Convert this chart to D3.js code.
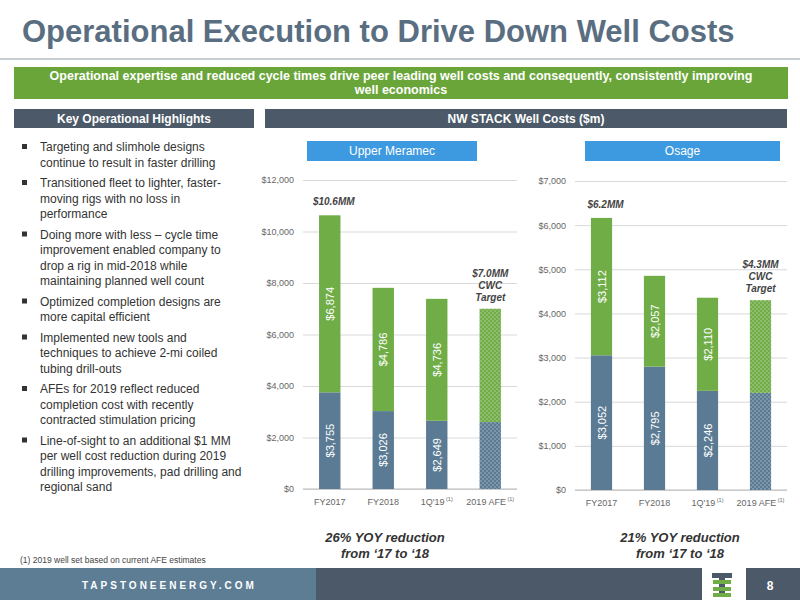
<!DOCTYPE html>
<html><head><meta charset="utf-8">
<script src="https://cdn.jsdelivr.net/npm/d3@7"></script>
<style>body{margin:0;}svg{font-family:Arial,"Liberation Sans",sans-serif;}</style>
</head><body><svg id="s" width="800" height="600"></svg>
<script>
const categories=["FY2017","FY2018","1Q'19","2019 AFE"];
const catSup=["","","(1)","(1)"];
const meramecBase=[3755,3026,2649,2600];
const meramecComp=[6874,4786,4736,4400];
const osageBase=[3052,2795,2246,2200];
const osageComp=[3112,2057,2110,2100];
const meramecTicks=[0,2000,4000,6000,8000,10000,12000];
const osageTicks=[0,1000,2000,3000,4000,5000,6000,7000];
const bullets=[
["Targeting and slimhole designs","continue to result in faster drilling"],
["Transitioned fleet to lighter, faster-","moving rigs with no loss in","performance"],
["Doing more with less – cycle time","improvement enabled company to","drop a rig in mid-2018 while","maintaining planned well count"],
["Optimized completion designs are","more capital efficient"],
["Implemented new tools and","techniques to achieve 2-mi coiled","tubing drill-outs"],
["AFEs for 2019 reflect reduced","completion cost with recently","contracted stimulation pricing"],
["Line-of-sight to an additional $1 MM","per well cost reduction during 2019","drilling improvements, pad drilling and","regional sand"]];
const BLUE="#5b7b94",GREEN="#70ad47",SLATE="#4b5968";
const svg=d3.select("#s");
svg.append("rect").attr("width",800).attr("height",600).attr("fill","#fff");
const defs=svg.append("defs");
[["pg",GREEN],["pb",BLUE]].forEach(([id,c])=>{
 const p=defs.append("pattern").attr("id",id).attr("width",4).attr("height",4).attr("patternUnits","userSpaceOnUse");
 p.append("rect").attr("width",4).attr("height",4).attr("fill",c);
 p.append("circle").attr("cx",1).attr("cy",1).attr("r",0.8).attr("fill","#fff").attr("opacity",0.45);
 p.append("circle").attr("cx",3).attr("cy",3).attr("r",0.8).attr("fill","#fff").attr("opacity",0.45);
});
svg.append("text").attr("x",22).attr("y",42).attr("font-size",31).attr("font-weight","bold").attr("fill","#5a6e82").text("Operational Execution to Drive Down Well Costs");
svg.append("rect").attr("x",0).attr("y",58).attr("width",800).attr("height",2).attr("fill","#c8cdd2");
svg.append("rect").attr("x",14).attr("y",67).attr("width",774).attr("height",32).attr("fill","#6aa539");
svg.append("text").attr("x",401).attr("y",80).attr("text-anchor","middle").attr("fill","#fff").attr("font-size",12.5).attr("font-weight","bold").text("Operational expertise and reduced cycle times drive peer leading well costs and consequently, consistently improving");
svg.append("text").attr("x",401).attr("y",94).attr("text-anchor","middle").attr("fill","#fff").attr("font-size",12.5).attr("font-weight","bold").text("well economics");
svg.append("rect").attr("x",14).attr("y",109).attr("width",240).attr("height",19).attr("fill",SLATE);
svg.append("text").attr("x",134).attr("y",123).attr("text-anchor","middle").attr("fill","#fff").attr("font-size",12).attr("font-weight","bold").text("Key Operational Highlights");
svg.append("rect").attr("x",265).attr("y",109).attr("width",522).attr("height",19).attr("fill",SLATE);
svg.append("text").attr("x",526).attr("y",123).attr("text-anchor","middle").attr("fill","#fff").attr("font-size",12).attr("font-weight","bold").text("NW STACK Well Costs ($m)");
let y=151;
bullets.forEach(b=>{
 svg.append("rect").attr("x",22).attr("y",y-7).attr("width",5).attr("height",5).attr("fill","#333");
 b.forEach((l,i)=>svg.append("text").attr("x",40).attr("y",y+i*15.5).attr("font-size",12).attr("fill","#333").text(l));
 y+=b.length*15.5+5;
});
svg.append("text").attr("x",20).attr("y",563).attr("font-size",8.5).attr("fill","#444").text("(1) 2019 well set based on current AFE estimates");
svg.append("rect").attr("x",0).attr("y",568).attr("width",800).attr("height",32).attr("fill",SLATE);
svg.append("rect").attr("x",0).attr("y",568).attr("width",316).attr("height",32).attr("fill","#5d7d94");
svg.append("text").attr("x",82).attr("y",589).attr("font-size",10).attr("font-weight","bold").attr("letter-spacing",3).attr("fill","#fff").text("TAPSTONEENERGY.COM");
svg.append("rect").attr("x",702).attr("y",568).attr("width",44).attr("height",32).attr("fill","#fff");
const lg=svg.append("g");
lg.append("rect").attr("x",712).attr("y",573).attr("width",20).attr("height",5).attr("fill",SLATE);
lg.append("rect").attr("x",719).attr("y",573).attr("width",6).attr("height",24).attr("fill",SLATE);
[580,587,593].forEach(yy=>lg.append("rect").attr("x",713).attr("y",yy).attr("width",18).attr("height",4).attr("fill",GREEN));
svg.append("text").attr("x",770).attr("y",590).attr("text-anchor","middle").attr("font-size",12).attr("font-weight","bold").attr("fill","#fff").text("8");

function chart(cfg){
 const g=svg.append("g");
 g.append("rect").attr("x",cfg.hx).attr("y",141).attr("width",cfg.hw).attr("height",20).attr("fill","#3d9ae0");
 g.append("text").attr("x",cfg.hx+cfg.hw/2).attr("y",155).attr("text-anchor","middle").attr("fill","#fff").attr("font-size",12).text(cfg.title);
 const yS=d3.scaleLinear().domain([0,cfg.max]).range([cfg.y0,cfg.y1]);
 const xS=d3.scaleBand().domain(categories).range([cfg.x0,cfg.x1]).paddingInner(0.6).paddingOuter(0.3);
 const ax=g.append("g").attr("transform",`translate(${cfg.x0},0)`).call(d3.axisLeft(yS).tickValues(cfg.ticks).tickSize(-(cfg.x1-cfg.x0)).tickFormat(d=>"$"+d3.format(",")(d)));
 ax.select(".domain").remove();
 ax.selectAll("line").attr("stroke","#d9d9d9");
 ax.selectAll("text").attr("font-size",9).attr("fill","#666").attr("dx",-6);
 g.append("line").attr("x1",cfg.x0).attr("x2",cfg.x1).attr("y1",cfg.y0).attr("y2",cfg.y0).attr("stroke","#bbb");
 categories.forEach((c,i)=>{
  const x=xS(c),w=xS.bandwidth(),afe=i===3;
  const b=cfg.base[i],t=cfg.comp[i];
  g.append("rect").attr("x",x).attr("y",yS(b)).attr("width",w).attr("height",yS(0)-yS(b)).attr("fill",afe?"url(#pb)":BLUE);
  g.append("rect").attr("x",x).attr("y",yS(b+t)).attr("width",w).attr("height",yS(b)-yS(b+t)).attr("fill",afe?"url(#pg)":GREEN);
  if(!afe){
   [[b,(yS(0)+yS(b))/2],[t,(yS(b)+yS(b+t))/2]].forEach(([v,cy])=>{
    g.append("text").attr("transform",`translate(${x+w/2+4},${cy}) rotate(-90)`).attr("text-anchor","middle").attr("font-size",11).attr("fill","#fff").text("$"+d3.format(",")(v));
   });
  }
  const lab=g.append("text").attr("x",x+w/2).attr("y",cfg.y0+16).attr("text-anchor","middle").attr("font-size",9).attr("fill","#666").text(c);
  if(catSup[i]) lab.append("tspan").attr("dy",-4).attr("font-size",5.5).text(" "+catSup[i]);
 });
 const x0=xS(categories[0]);
 g.append("text").attr("x",x0+xS.bandwidth()/2+4).attr("y",yS(cfg.base[0]+cfg.comp[0])-10).attr("text-anchor","middle").attr("font-size",10).attr("font-weight","bold").attr("font-style","italic").attr("fill","#444").text(cfg.topLabel);
 const xa=xS(categories[3])+xS.bandwidth()/2,ta=yS(cfg.base[3]+cfg.comp[3]);
 [cfg.target,"CWC","Target"].forEach((l,k)=>g.append("text").attr("x",xa).attr("y",ta-32+k*12).attr("text-anchor","middle").attr("font-size",10).attr("font-weight","bold").attr("font-style","italic").attr("fill","#444").text(l));
 [cfg.red,"from ‘17 to ‘18"].forEach((l,k)=>g.append("text").attr("x",cfg.rx).attr("y",542+k*16).attr("text-anchor","middle").attr("font-size",13).attr("font-weight","bold").attr("font-style","italic").attr("fill","#333").text(l));
}
chart({title:"Upper Meramec",hx:307,hw:170,x0:303,x1:517,y0:489,y1:180,max:12000,ticks:meramecTicks,base:meramecBase,comp:meramecComp,topLabel:"$10.6MM",target:"$7.0MM",red:"26% YOY reduction",rx:385});
chart({title:"Osage",hx:585,hw:195,x0:575,x1:787,y0:490,y1:181,max:7000,ticks:osageTicks,base:osageBase,comp:osageComp,topLabel:"$6.2MM",target:"$4.3MM",red:"21% YOY reduction",rx:680});
</script></body></html>
